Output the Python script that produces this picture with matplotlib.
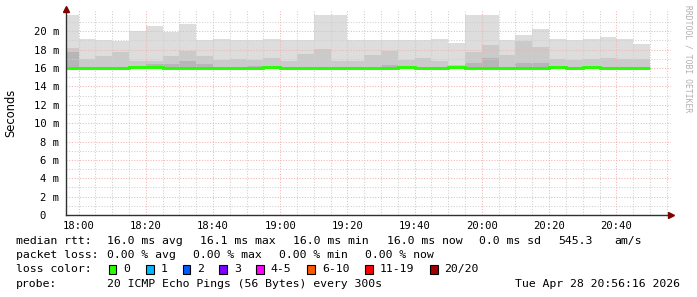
import numpy as np
import pandas as pd
import matplotlib
matplotlib.use("Agg")
import matplotlib.pyplot as plt
import matplotlib.dates as mdates
from matplotlib.patches import Rectangle

# 5 minute bins, the first one is cut off by the left edge of the graph
bin_start = pd.date_range("2026-04-28 17:55", "2026-04-28 20:45", freq="5min")
t_start = pd.Timestamp("2026-04-28 17:56:16")
t_end = pd.Timestamp("2026-04-28 20:56:16")

# smoke, in ms: top of the light band, the middle band and the dark band
max_ms = [21.8, 19.2, 19.05, 18.95, 20.0, 20.6, 19.95, 20.8, 19.05, 19.2,
          19.05, 19.0, 19.2, 19.05, 19.05, 21.8, 21.8, 19.05, 19.05, 19.05,
          19.0, 19.05, 19.15, 18.75, 21.8, 21.8, 19.05, 19.6, 20.25, 19.15,
          19.05, 19.15, 19.4, 19.2, 18.65]
mid_ms = [18.2, 17.0, 17.3, 17.8, 16.8, 16.8, 17.3, 17.85, 17.3, 16.9,
          16.95, 16.9, 17.05, 16.8, 17.5, 18.1, 16.8, 16.8, 17.4, 17.85,
          16.9, 17.05, 16.8, 16.3, 17.7, 18.5, 17.4, 18.9, 18.3, 16.95,
          16.9, 17.0, 17.1, 16.95, 16.95]
dark_ms = [17.8, 15.85, 15.85, 15.85, 15.85, 16.4, 16.4, 16.8, 16.4, 15.85,
           15.85, 16.25, 15.85, 15.85, 15.85, 15.85, 15.85, 15.85, 15.85, 16.3,
           15.85, 15.85, 15.85, 15.85, 16.5, 17.05, 15.85, 16.5, 16.6, 15.85,
           15.85, 15.85, 15.85, 15.85, 15.85]
median_ms = [16.0, 16.0, 16.0, 16.0, 16.15, 16.1, 16.0, 16.0, 16.0, 16.0,
             16.0, 16.0, 16.15, 16.0, 16.0, 16.0, 16.0, 16.0, 16.0, 16.0,
             16.15, 16.0, 16.0, 16.1, 16.05, 16.0, 16.0, 16.05, 16.0, 16.1,
             16.0, 16.1, 16.0, 16.0, 16.0]
floor_ms = 15.85

y_ticks = [0, 2, 4, 6, 8, 10, 12, 14, 16, 18, 20]

loss_labels = ["0", "1", "2", "3", "4-5", "6-10", "11-19", "20/20"]
loss_colors = ["#26ff00", "#00b8ff", "#0059ff", "#7e00ff", "#ff00ff",
               "#ff5500", "#ff0000", "#a10000"]

W, H = 697, 297
MONO = "DejaVu Sans Mono"

fig = plt.figure(figsize=(W / 100, H / 100), dpi=100)
fig.patch.set_facecolor("white")
ax = fig.add_axes([66 / W, (H - 215) / H, (671 - 66) / W, (215 - 10) / H])

x = mdates.date2num(bin_start)
w = 5 / 1440
for vals, col in [(max_ms, "#dddddd"), (mid_ms, "#cacaca"), (dark_ms, "#b6b6b6")]:
    ax.bar(x, np.array(vals) - floor_ms, w, bottom=floor_ms, align="edge",
           color=col, lw=0, zorder=1)

edges = np.append(x, x[-1] + w)
ax.stairs(median_ms, edges, baseline=None, color="#26ff00", lw=2.1, zorder=3)

ax.set_xlim(mdates.date2num(t_start), mdates.date2num(t_end))
ax.set_ylim(0, 22.32)

ax.xaxis.set_major_locator(mdates.MinuteLocator(byminute=[0, 20, 40]))
ax.xaxis.set_minor_locator(mdates.MinuteLocator(byminute=range(0, 60, 5)))
ax.xaxis.set_major_formatter(mdates.DateFormatter("%H:%M"))
ax.set_yticks(y_ticks)
ax.set_yticks(np.arange(0, 22), minor=True)
ax.set_yticklabels(["0  " if v == 0 else f"{v} m" for v in y_ticks])

ax.set_axisbelow("line")
ax.grid(which="minor", color="#cfcfcf", ls=(0, (1, 1.6)), lw=0.75)
ax.grid(which="major", color="#f2b4b4", ls=(0, (1, 1.6)), lw=0.75)

ax.tick_params(which="both", length=0, labelsize=7.6, colors="#000000")
ax.tick_params(axis="y", pad=5)
ax.tick_params(axis="x", pad=4)
for lab in ax.get_xticklabels() + ax.get_yticklabels():
    lab.set_family(MONO)

for s in ["top", "right"]:
    ax.spines[s].set_visible(False)
for s in ["left", "bottom"]:
    ax.spines[s].set_color("#303030")
    ax.spines[s].set_linewidth(1.0)
    ax.spines[s].set_zorder(4)

# rrdtool style arrow heads
ax.plot([0], [1.005], marker="^", ms=4, color="#7f0000", transform=ax.transAxes,
        clip_on=False, zorder=5)
ax.plot([1.0], [0], marker=">", ms=4, color="#7f0000", transform=ax.transAxes,
        clip_on=False, zorder=5)

fig.text(11 / W, 1 - 113 / H, "Seconds", rotation=90, ha="center", va="center",
         fontsize=8.3, family="DejaVu Sans")
fig.text(688 / W, 1 - 5 / H, "RRDTOOL / TOBI OETIKER", rotation=270,
         ha="center", va="top", fontsize=5.8, family=MONO, color="#b0b0b0")


def put(px, py, s, ha="left"):
    fig.text(px / W, 1 - py / H, s, ha=ha, va="center", fontsize=8.25, family=MONO)


put(16, 241.3, "median rtt:")
put(107.3, 241.3, "16.0 ms avg")
put(200, 241.3, "16.1 ms max")
put(293, 241.3, "16.0 ms min")
put(386.7, 241.3, "16.0 ms now")
put(479.3, 241.3, "0.0 ms sd")
put(558.3, 241.3, "545.3")
put(614, 241.3, "am/s")

put(16, 255.3, "packet loss:")
put(107.3, 255.3, "0.00 % avg")
put(193.3, 255.3, "0.00 % max")
put(279.3, 255.3, "0.00 % min")
put(365, 255.3, "0.00 % now")

put(16, 269.3, "loss color:")
box_x = [108.7, 146, 182.7, 219.3, 256, 307.3, 365, 430]
for bx, lab, col in zip(box_x, loss_labels, loss_colors):
    fig.add_artist(Rectangle((bx / W, 1 - 274 / H), 7.5 / W, 9 / H,
                             transform=fig.transFigure, fc=col, ec="black", lw=0.8))
    put(bx + 14.6, 269.3, lab)

put(16, 283.7, "probe:")
put(107.3, 283.7, "20 ICMP Echo Pings (56 Bytes) every 300s")
put(680, 283.7, "Tue Apr 28 20:56:16 2026", ha="right")

fig.savefig("out.png", dpi=100, facecolor="white")
